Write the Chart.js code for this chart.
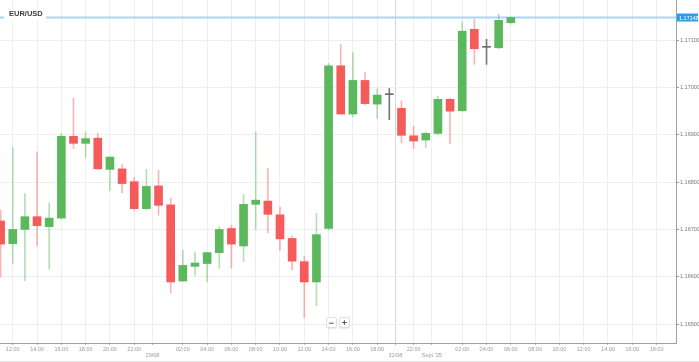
<!DOCTYPE html>
<html>
<head>
<meta charset="utf-8">
<script src="https://cdn.jsdelivr.net/npm/chart.js@4.4.1/dist/chart.umd.min.js"></script>
<style>
  html, body { margin:0; padding:0; background:#fff; }
  #wrap { position:relative; width:699px; height:361px; border-bottom:1px solid #e4e4e4; }
  #zoomBtns { position:absolute; left:326px; top:317px; display:flex; gap:2px; }
  #zoomBtns span { display:block; width:9px; height:9px; line-height:9px; text-align:center;
    font:bold 9px "Liberation Sans", Arial, sans-serif; color:#555; background:#fff;
    border:1px solid #e0e0e0; border-radius:2px; box-shadow:0 1px 1px rgba(0,0,0,.08); }
</style>
</head>
<body>
<div id="wrap">
  <canvas id="chart"></canvas>
  <div id="zoomBtns"><span>&minus;</span><span>+</span></div>
</div>
<script>
// EUR/USD hourly candles, 28/08 11:00 -> 01/09 06:00 (weekend gap squeezed out)
const symbol = 'EUR/USD';

// one slot per hourly candle, plus empty slots up to 19:00 on the right
const times = [
  '11:00','12:00','13:00','14:00','15:00','16:00','17:00','18:00','19:00','20:00','21:00','22:00','23:00',
  '00:00','01:00','02:00','03:00','04:00','05:00','06:00','07:00','08:00','09:00','10:00','11:00','12:00',
  '13:00','14:00','15:00','16:00','17:00','18:00','19:00',
  '21:00','22:00','23:00',
  '00:00','01:00','02:00','03:00','04:00','05:00','06:00','07:00','08:00','09:00','10:00','11:00','12:00',
  '13:00','14:00','15:00','16:00','17:00','18:00','19:00'
];

const open  = [1.16718,1.16670,1.16700,1.16727,1.16706,1.16724,1.16897,1.16882,1.16893,1.16827,1.16828,
               1.16801,1.16744,1.16792,1.16752,1.16591,1.16622,1.16628,1.16651,1.16702,1.16665,1.16753,
               1.16760,1.16731,1.16681,1.16632,1.16589,1.16702,1.17046,1.16944,1.17015,1.16965,1.16985,
               1.16956,1.16898,1.16889,1.16903,1.16975,1.16951,1.17123,1.17085,1.17084,1.17137];
const high  = [1.16741,1.16873,1.16776,1.16864,1.16756,1.16903,1.16977,1.16906,1.16903,1.16853,1.16837,
               1.16810,1.16827,1.16825,1.16766,1.16656,1.16652,1.16651,1.16706,1.16709,1.16774,1.16906,
               1.16829,1.16748,1.16686,1.16644,1.16734,1.17051,1.17091,1.17074,1.17032,1.16997,1.16998,
               1.16972,1.16918,1.16906,1.16982,1.16977,1.17139,1.17144,1.17102,1.17155,1.17149];
const low   = [1.16599,1.16628,1.16591,1.16665,1.16616,1.16722,1.16871,1.16852,1.16828,1.16782,1.16778,
               1.16741,1.16742,1.16730,1.16566,1.16590,1.16603,1.16589,1.16618,1.16618,1.16632,1.16700,
               1.16693,1.16656,1.16615,1.16513,1.16539,1.16699,1.16944,1.16938,1.16963,1.16935,1.16932,
               1.16883,1.16871,1.16873,1.16901,1.16882,1.16949,1.17049,1.17049,1.17082,1.17134];
const close = [1.16669,1.16700,1.16727,1.16708,1.16724,1.16897,1.16882,1.16892,1.16828,1.16853,1.16797,
               1.16744,1.16791,1.16751,1.16589,1.16624,1.16629,1.16651,1.16700,1.16669,1.16753,1.16762,
               1.16732,1.16680,1.16633,1.16589,1.16689,1.17046,1.16944,1.17015,1.16966,1.16984,1.16985,
               1.16899,1.16887,1.16903,1.16975,1.16950,1.17119,1.17082,1.17085,1.17142,1.17148];

// date markers on the time axis: label and first slot of that day
const dayNames = ['29/08', '31/08', "Sept '25"];
const dayFirstSlot = [13, 33, 36];

const priceTicks = [1.165, 1.166, 1.167, 1.168, 1.169, 1.170, 1.171];

const FONT = '"Liberation Sans", Arial, sans-serif';
const UP = '#5cb85c', DOWN = '#f65b5b', FLAT = '#6b6b6b';

const tone = open.map((o, i) => close[i] > o ? 'up' : close[i] < o ? 'down' : 'flat');
const bodyColor = tone.map(t => t === 'up' ? UP : t === 'down' ? DOWN : FLAT);
const wickColor = tone.map(t => t === 'up' ? 'rgba(92,184,92,0.45)' : t === 'down' ? 'rgba(246,91,91,0.45)' : '#777');

// x ticks: even hours (midnight replaced by the date marker) + day boundaries
const xTicks = [];
times.forEach((t, i) => { if (parseInt(t) % 2 === 0 && t !== '00:00') xTicks.push(i); });
dayFirstSlot.forEach(s => xTicks.push(s - 0.5));
xTicks.sort((a, b) => a - b);
const gapMarks = dayFirstSlot.filter(s => times[s - 1] !== '23:00').map(s => s - 0.5);

function xLabel(v){
  if (Number.isInteger(v)) return times[v];
  const k = dayFirstSlot.indexOf(v + 0.5);
  return ['', dayNames[k]];
}

const overlay = {
  id: 'overlay',
  beforeDatasetsDraw(chart){
    const {ctx, chartArea, scales} = chart;
    const y = scales.y.getPixelForValue(close[close.length - 1]);
    ctx.save();
    ctx.strokeStyle = '#a8d6f6';
    ctx.lineWidth = 2;
    ctx.beginPath(); ctx.moveTo(chartArea.left, y); ctx.lineTo(chartArea.right, y); ctx.stroke();
    ctx.restore();
  },
  afterDraw(chart){
    const {ctx, chartArea, scales} = chart;
    const last = close[close.length - 1];
    const y = scales.y.getPixelForValue(last);
    ctx.save();
    // price tag on the axis
    ctx.fillStyle = '#2e9be9';
    ctx.fillRect(chartArea.right + 1, y - 4, 21, 8);
    ctx.fillStyle = '#fff';
    ctx.font = '5.5px ' + FONT;
    ctx.textBaseline = 'middle';
    ctx.fillText(last.toFixed(5), chartArea.right + 3, y + 0.5);
    // symbol title
    ctx.fillStyle = '#fff';
    ctx.fillRect(4, 9, 42, 12);
    ctx.fillStyle = '#3a3a3a';
    ctx.font = 'bold 7.5px ' + FONT;
    ctx.textBaseline = 'alphabetic';
    ctx.fillText(symbol, 9, 16);
    ctx.restore();
  }
};

new Chart(document.getElementById('chart'), {
  type: 'bar',
  data: {
    datasets: [
      { label: 'body', data: open.map((o, i) => ({x: i, y: [o, close[i]]})),
        backgroundColor: bodyColor, barThickness: 8, minBarLength: 1, grouped: false, borderWidth: 0 },
      { label: 'wick', data: high.map((h, i) => ({x: i, y: [low[i], h]})),
        backgroundColor: wickColor, barThickness: 1, grouped: false, borderWidth: 0 }
    ]
  },
  options: {
    responsive: true,
    maintainAspectRatio: false,
    animation: false,
    layout: { padding: 0 },
    plugins: { legend: { display: false }, tooltip: { enabled: false }, title: { display: false } },
    scales: {
      x: {
        type: 'linear', min: -0.05, max: 55.6, offset: false,
        afterBuildTicks(scale){ scale.ticks = xTicks.map(v => ({value: v})); },
        afterFit(scale){ scale.height = 18; scale.paddingLeft = 0; scale.paddingRight = 0; },
        grid: { offset: false, tickLength: 2, tickColor: '#bbb',
                color: c => (c.tick && gapMarks.includes(c.tick.value)) ? '#d6d6d6' : '#efefef' },
        border: { color: '#a0a0a0' },
        ticks: { autoSkip: false, maxRotation: 0, padding: 1, color: '#9a9a9a',
                 font: { family: FONT, size: 5.5 }, callback: v => xLabel(v) }
      },
      y: {
        position: 'right', min: 1.1646, max: 1.17185, beginAtZero: false,
        afterBuildTicks(scale){ scale.ticks = priceTicks.map(v => ({value: v})); },
        afterFit(scale){ scale.width = 23; scale.paddingTop = 0; scale.paddingBottom = 0; },
        grid: { color: '#efefef', tickLength: 3, tickColor: '#999' },
        border: { color: '#a0a0a0' },
        ticks: { padding: 1, color: '#777', font: { family: FONT, size: 5.5 }, callback: v => v.toFixed(5) }
      }
    }
  },
  plugins: [overlay]
});
</script>
</body>
</html>
